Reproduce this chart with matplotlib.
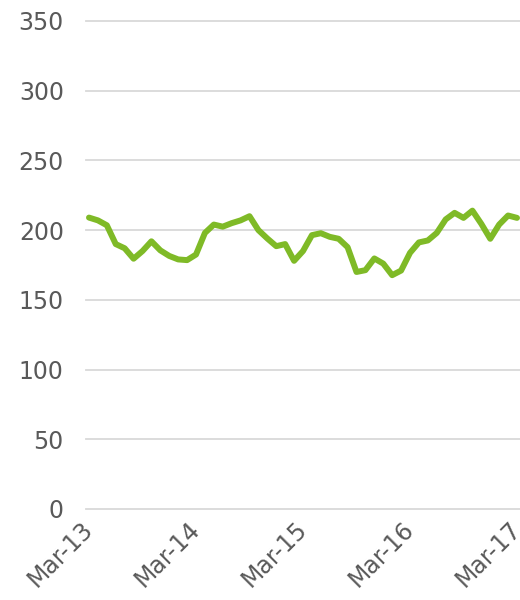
import matplotlib
matplotlib.use("Agg")
import matplotlib.pyplot as plt

values = [209, 207, 203.5, 190, 187, 179.5, 185, 192, 185.5, 181.5, 179, 178.5,
          182.5, 198, 204, 202.5, 205, 207, 210, 200, 194, 188.5, 190, 178,
          185, 196.4, 197.8, 195.2, 193.8, 187.8, 170, 171.3, 179.7, 176, 167.7, 171,
          183.7, 191.2, 192.6, 198, 207.7, 212.4, 208.8, 214, 204.5, 193.8, 204, 210.5,
          208.8]
tick_labels = ["Mar-13", "Mar-14", "Mar-15", "Mar-16", "Mar-17"]
tick_index = [0, 12, 24, 36, 48]
y_ticks = [0, 50, 100, 150, 200, 250, 300, 350]

plt.rcParams['font.family'] = ['DejaVu Sans']
fig = plt.figure(figsize=(5.2, 6.0), dpi=100)
ax = fig.add_axes([86/520, 91/600, 1 - 86/520, (509-21)/600])

x = list(range(len(values)))
ax.plot(x, values, color="#7fba27", linewidth=4.3, solid_joinstyle='round', solid_capstyle='round', zorder=3)

for v in y_ticks:
    ax.axhline(v, color="#d9d9d9", linewidth=1.3, clip_on=False, zorder=1)

ax.set_xlim(-3/8.917, 48 + 3/8.917)
ax.set_ylim(0, 350)
ax.set_yticks(y_ticks)
ax.set_yticklabels([str(v) for v in y_ticks], fontsize=17, color="#595959")
ax.set_xticks(tick_index)
ax.set_xticklabels(tick_labels, fontsize=17, color="#595959", rotation=45,
                   ha='right', va='center', rotation_mode='anchor')
ax.tick_params(axis='both', length=0)
ax.tick_params(axis='y', pad=16)
ax.tick_params(axis='x', pad=12)
for s in ax.spines.values():
    s.set_visible(False)

fig.savefig("out.png", dpi=100)
